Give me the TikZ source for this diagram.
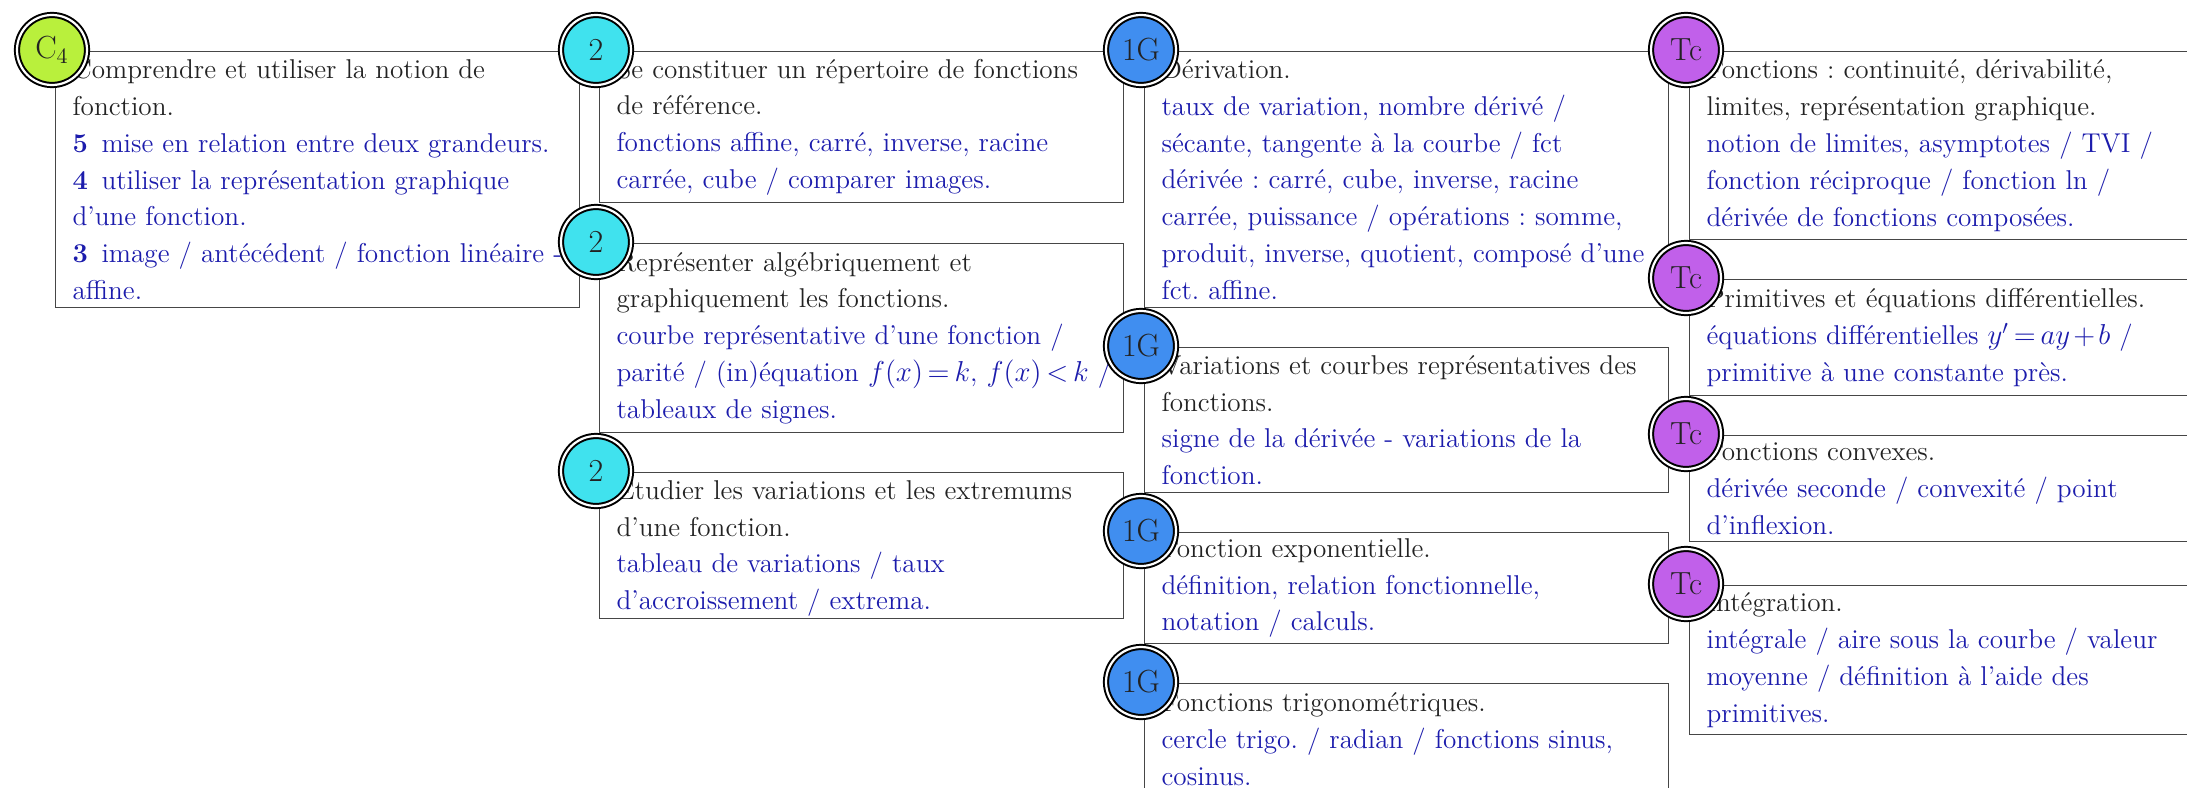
\documentclass[tikz,border=0pt]{standalone}
\usepackage{fontspec}
\usetikzlibrary{positioning}
\definecolor{cgreen}{RGB}{185,240,60}
\definecolor{ccyan}{RGB}{64,226,238}
\definecolor{cblue}{RGB}{64,142,240}
\definecolor{cpurple}{RGB}{193,96,234}
\definecolor{tblue}{RGB}{28,28,172}
\definecolor{tblack}{RGB}{34,34,34}
\definecolor{boxgray}{RGB}{70,70,70}
\newcommand\hi[1]{\textcolor{tblue}{#1}}
\newcommand\nb[1]{\textbf{#1}\enspace}
\frenchspacing
\thickmuskip=3mu plus 2mu
\medmuskip=2mu plus 1mu
\hbadness=10000 \hfuzz=20pt
\tikzset{
  box/.style={draw=boxgray, line width=0.6pt, anchor=north west, inner xsep=8.5pt, inner ysep=0pt,
    text width=245pt, align=left, text=tblack, font=\frenchspacing\fontsize{13.6pt}{18.4pt}\selectfont},
  badge/.style={circle, draw=black, double=white, double distance=1.1pt, line width=1pt,
    minimum size=35pt, inner sep=0pt, text=tblack, font=\fontsize{16pt}{18pt}\selectfont}
}
\begin{document}
\begin{tikzpicture}[x=0.5pt,y=-0.5pt]
\useasboundingbox (0,0) rectangle (2187,787);
\clip (0,0) rectangle (2187,787);
% column 1
\node[box, minimum height=128pt] (b1) at (55,51) {Comprendre et utiliser la notion de\\ fonction.\\
\hi{\nb{5}mise en relation entre deux grandeurs.}\\
\hi{\nb{4}utiliser la représentation graphique}\\
\hi{d’une fonction.}\\
\hi{\mbox{\nb{3}image / antécédent / fonction linéaire -}}\\
\hi{affine.}};
% column 2
\node[box, minimum height=75.5pt] (b21) at (599,51) {Se constituer un répertoire de fonctions\\ de référence.\\
\hi{fonctions affine, carré, inverse, racine}\\
\hi{carrée, cube / comparer images.}};
\node[box, minimum height=94.5pt] (b22) at (599,243) {Représenter algébriquement et\\ graphiquement les fonctions.\\
\hi{courbe représentative d’une fonction /}\\
\hi{\mbox{parité / (in)équation $f(x)=k$, $f(x)<k$ /}}\\
\hi{tableaux de signes.}};
\node[box, minimum height=73pt] (b23) at (599,472) {Étudier les variations et les extremums\\ d’une fonction.\\
\hi{tableau de variations / taux}\\
\hi{d’accroissement / extrema.}};
% column 3
\node[box, minimum height=128pt] (b31) at (1144,51) {Dérivation.\\
\hi{taux de variation, nombre dérivé /}\\
\hi{sécante, tangente à la courbe / fct}\\
\hi{dérivée : carré, cube, inverse, racine}\\
\hi{carrée, puissance / opérations : somme,}\\
\hi{\mbox{produit, inverse, quotient, composé d’une}}\\
\hi{fct. affine.}};
\node[box, minimum height=72.5pt] (b32) at (1144,347) {\mbox{Variations et courbes représentatives des}\\ fonctions.\\
\hi{signe de la dérivée - variations de la}\\
\hi{fonction.}};
\node[box, minimum height=55.5pt] (b33) at (1144,532) {Fonction exponentielle.\\
\hi{définition, relation fonctionnelle,}\\
\hi{notation / calculs.}};
\node[box, minimum height=55.5pt] (b34) at (1144,683) {Fonctions trigonométriques.\\
\hi{cercle trigo. / radian / fonctions sinus,}\\
\hi{cosinus.}};
% column 4
\node[box, minimum height=94pt] (b41) at (1689,51) {Fonctions : continuité, dérivabilité,\\ limites, représentation graphique.\\
\hi{notion de limites, asymptotes / TVI /}\\
\hi{fonction réciproque / fonction ln /}\\
\hi{dérivée de fonctions composées.}};
\node[box, minimum height=58pt] (b42) at (1689,279) {\mbox{Primitives et équations différentielles.}\\
\hi{équations différentielles $y'=ay+b$ /}\\
\hi{primitive à une constante près.}};
\node[box, minimum height=53pt] (b43) at (1689,435) {Fonctions convexes.\\
\hi{dérivée seconde / convexité / point}\\
\hi{d’inflexion.}};
\node[box, minimum height=74.5pt] (b44) at (1689,585) {Intégration.\\
\hi{\mbox{intégrale / aire sous la courbe / valeur}}\\
\hi{moyenne / définition à l’aide des}\\
\hi{primitives.}};
% badges
\node[badge, fill=cgreen] (c1) at ([shift={(-1.5pt,0.5pt)}]b1.north west) {C$_4$};
\node[badge, fill=ccyan] (c21) at ([shift={(-1.5pt,0.5pt)}]b21.north west) {2};
\node[badge, fill=ccyan] (c22) at ([shift={(-1.5pt,0.5pt)}]b22.north west) {2};
\node[badge, fill=ccyan] (c23) at ([shift={(-1.5pt,0.5pt)}]b23.north west) {2};
\node[badge, fill=cblue] (c31) at ([shift={(-1.5pt,0.5pt)}]b31.north west) {1G};
\node[badge, fill=cblue] (c32) at ([shift={(-1.5pt,0.5pt)}]b32.north west) {1G};
\node[badge, fill=cblue] (c33) at ([shift={(-1.5pt,0.5pt)}]b33.north west) {1G};
\node[badge, fill=cblue] (c34) at ([shift={(-1.5pt,0.5pt)}]b34.north west) {1G};
\node[badge, fill=cpurple] (c41) at ([shift={(-1.5pt,0.5pt)}]b41.north west) {Tc};
\node[badge, fill=cpurple] (c42) at ([shift={(-1.5pt,0.5pt)}]b42.north west) {Tc};
\node[badge, fill=cpurple] (c43) at ([shift={(-1.5pt,0.5pt)}]b43.north west) {Tc};
\node[badge, fill=cpurple] (c44) at ([shift={(-1.5pt,0.5pt)}]b44.north west) {Tc};
\end{tikzpicture}
\end{document}
